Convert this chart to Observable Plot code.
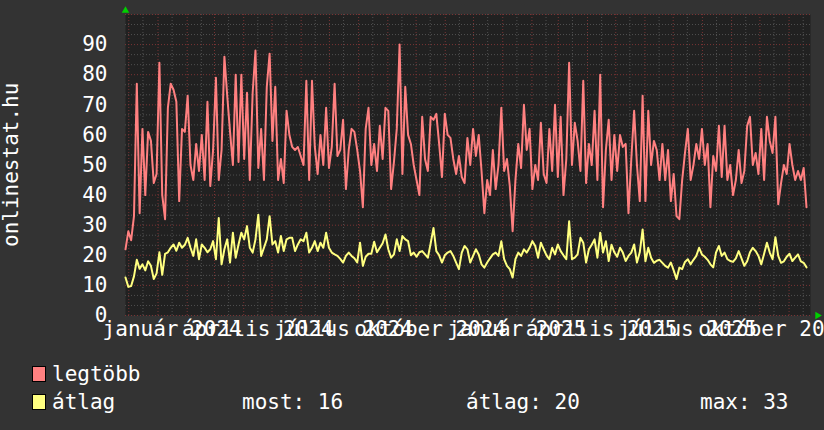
<!DOCTYPE html>
<html><head><meta charset="utf-8">
<script src="https://cdn.jsdelivr.net/npm/d3@7"></script>
<script src="https://cdn.jsdelivr.net/npm/@observablehq/plot@0.6"></script>
<style>
html,body{margin:0;padding:0;background:#333333;overflow:hidden;}
#wrap{position:relative;width:824px;height:430px;overflow:hidden;font-family:"DejaVu Sans Mono",monospace;color:#fff;}
#chart svg{display:block;}
#legend{position:relative;width:824px;height:80px;font-size:21px;}
#ytitle{position:absolute;left:1px;top:65px;width:21px;height:200px;line-height:21px;font-size:21px;text-align:center;writing-mode:vertical-rl;transform:rotate(180deg);white-space:pre;color:#fff;}
.sw{position:absolute;width:12px;height:14px;border:1px solid #000;}
.t{position:absolute;line-height:21px;white-space:pre;color:#fff;}
</style></head><body><div id="wrap"><div id="chart"></div><div id="legend"></div><div id="ytitle"></div></div>
<script>
// ---- data ----
const startDate = "2023-11-27T12:00";
const stepDays = 3;
const xDomain = ["2023-11-27T12:00", "2025-11-23T18:00"];
const legtobb = [
22,28,25,33,77,34,62,40,61,58,
44,47,84,40,32,69,77,75,71,38,
62,61,73,50,45,57,48,60,45,71,
43,55,79,45,55,86,73,61,50,80,
51,80,52,74,45,74,88,49,62,45,
76,87,58,76,45,52,44,68,60,56,
55,56,53,50,78,45,78,56,47,60,
50,69,49,56,77,53,55,65,42,55,
62,61,55,48,36,62,69,50,57,48,
63,52,69,68,42,51,62,90,47,76,
60,57,50,45,40,66,52,48,66,65,
67,57,46,67,60,59,52,47,53,46,
44,59,50,62,53,60,48,34,45,40,
55,42,50,69,48,52,43,28,45,57,
49,70,55,62,42,50,45,64,47,44,
62,48,70,46,66,40,52,84,50,64,
58,48,78,44,57,50,68,45,80,36,
55,65,45,60,48,60,56,57,34,52,
68,50,38,73,38,68,50,58,55,45,
57,45,55,38,47,33,32,45,54,62,
45,50,57,52,62,50,57,36,53,48,
63,46,63,45,50,40,45,55,44,48,
63,66,50,54,47,62,45,66,58,54,
66,37,44,50,47,57,50,45,48,45,
49,36];
const atlag = [
12.6,9.5,9.8,13,18.5,15.5,17,15,18,16.5,
12.1,14,21,13.5,20.5,21,22.5,23.6,21.5,24.2,
22.5,23.5,25.8,22.5,19.8,25.3,18.7,23.6,22.5,21,
22,24.7,18.7,32.4,17,22,25.3,17.6,27.5,19.2,
23.6,27.5,25.3,29.7,22.5,20.9,25.3,33.5,19.8,22.5,
25.3,33,23.6,24.7,20.9,26.4,21.4,25.3,25.8,25.8,
21.4,23.6,25.3,24.7,27.5,20.9,22.5,24.7,21.4,24.2,
22.5,27.5,22.5,20.9,20.3,19.8,18.8,17.6,19.8,20.9,
19.8,19,17.6,24.2,16.5,19.5,20.5,20.5,24.5,21,
22.5,24,26.9,22,19.2,20.3,25.3,21.4,26.4,25.3,
24.7,20,20.9,19.5,21,21.4,20.3,19.2,24,29.1,
21.4,20,17.6,20,20.9,21.4,19.8,17.6,15.4,20.9,
23.1,22,17.6,19.8,22,20.3,17,15.9,17.6,19,
20.3,20.9,19.8,24.7,18.7,16.5,15.4,12.6,18.7,20.9,
19.8,22,20.9,22.5,24.7,23.1,19.2,24.2,22,20,
18.7,22.5,20.3,23.6,21.4,20,18.7,31.3,18.7,19.2,
20.3,25.8,24.2,17.6,22,23.5,25.3,19.2,27.5,20.9,
24.7,18.1,23.5,21,19.5,22.5,20.9,18.1,19.8,20.9,
23.6,17.6,21,28.6,18,22.5,19.2,17.5,18.2,18.5,
17.5,16.5,15.9,17.6,15,12.1,15.9,15.4,17.8,18.7,
17,18.5,19.8,22.5,20.3,19.5,18.5,17,16,21,
23.1,19.8,20.9,18.7,18.1,17.8,19,21.4,19,16.5,
18,21,22.5,21.4,19.8,17,20.5,24.2,20.9,18.7,
26,19.8,17.5,18,19.5,20.5,18.1,19.2,20.3,18,
17.5,16];
const yTicks = [0,10,20,30,40,50,60,70,80,90];
const yMax = 100;
const xTickDates = ["2024-01-16","2024-04-16","2024-07-16","2024-10-16","2025-01-16","2025-04-16","2025-07-16","2025-10-16"];
const xTickLabels = ["január 2024","április 2024","július 2024","október 2024","január 2025","április 2025","július 2025","október 2025"];
const seriesNames = ["legtöbb","átlag"];
const seriesColors = ["#ff8080","#ffff80"];
const legendStats = ["most: 16","átlag: 20","max: 33"];
const yTitle = "onlinestat.hu";

// ---- build ----
const x0 = new Date(xDomain[0]), x1 = new Date(xDomain[1]);
const rows = legtobb.map((v, i) => ({date: d3.timeDay.offset(new Date(startDate), i * stepDays), legtobb: v, atlag: atlag[i]}));
const labelDates = xTickDates.map(s => new Date(s + "T00:00"));
const labelMap = new Map(labelDates.map((d, i) => [+d, xTickLabels[i]]));
const majorX = d3.timeMonth.range(x0, x1);
const minorX = majorX.map(d => d3.timeDay.offset(d, 15)).filter(d => d < x1);
const majorY = d3.range(0, yMax + 1, 10);
const minorY = d3.range(0, yMax, 10 / 3).filter(v => Math.abs(v / 10 - Math.round(v / 10)) > 0.01);

const chart = Plot.plot({
  width: 824, height: 350,
  marginTop: 14, marginBottom: 35, marginLeft: 125, marginRight: 14,
  style: {background: "transparent", fontFamily: "'DejaVu Sans Mono', monospace", fontSize: "21px", color: "#ffffff", overflow: "hidden"},
  x: {type: "time", domain: [x0, x1], axis: null},
  y: {domain: [0, yMax], axis: null},
  marks: [
    Plot.frame({fill: "#212121", stroke: null}),
    Plot.ruleX(minorX, {stroke: "#505050", strokeDasharray: "1,2", strokeWidth: 1}),
    Plot.ruleY(minorY, {stroke: "#505050", strokeDasharray: "1,2", strokeWidth: 1}),
    Plot.ruleX(majorX, {stroke: "#7a3434", strokeDasharray: "1,2", strokeWidth: 1}),
    Plot.ruleY(majorY, {stroke: "#7a3434", strokeDasharray: "1,2", strokeWidth: 1}),
    Plot.lineY(rows, {x: "date", y: "legtobb", stroke: seriesColors[0], strokeWidth: 2}),
    Plot.lineY(rows, {x: "date", y: "atlag", stroke: seriesColors[1], strokeWidth: 2}),
    Plot.axisY(yTicks, {tickSize: 0, tickPadding: 18, fill: "#ffffff", fontSize: 21, label: null}),
    Plot.axisX(labelDates, {tickSize: 0, tickPadding: 6, tickFormat: d => labelMap.get(+d), fill: "#ffffff", fontSize: 21, label: null}),
    Plot.dot([x0], {x: d => d, y: () => yMax, symbol: "triangle", r: 2.8, fill: "#00d000", stroke: null, dy: -4}),
    Plot.dot([x1], {x: d => d, y: () => 0, symbol: "triangle", r: 2.8, fill: "#00d000", stroke: null, rotate: 90, dx: 7})
  ]
});
document.getElementById("chart").appendChild(chart);
document.getElementById("ytitle").textContent = yTitle;

// ---- legend ----
const legend = document.getElementById("legend");
function add(cls, left, top, text, color) {
  const el = document.createElement("div");
  el.className = cls;
  el.style.left = left + "px";
  el.style.top = top + "px";
  if (text != null) el.textContent = text;
  if (color) el.style.background = color;
  legend.appendChild(el);
}
add("sw", 32, 16, null, seriesColors[0]);
add("t", 52, 14, seriesNames[0]);
add("sw", 32, 44, null, seriesColors[1]);
add("t", 52, 42, seriesNames[1]);
add("t", 242, 42, legendStats[0]);
add("t", 466, 42, legendStats[1]);
add("t", 700, 42, legendStats[2]);
</script></body></html>
